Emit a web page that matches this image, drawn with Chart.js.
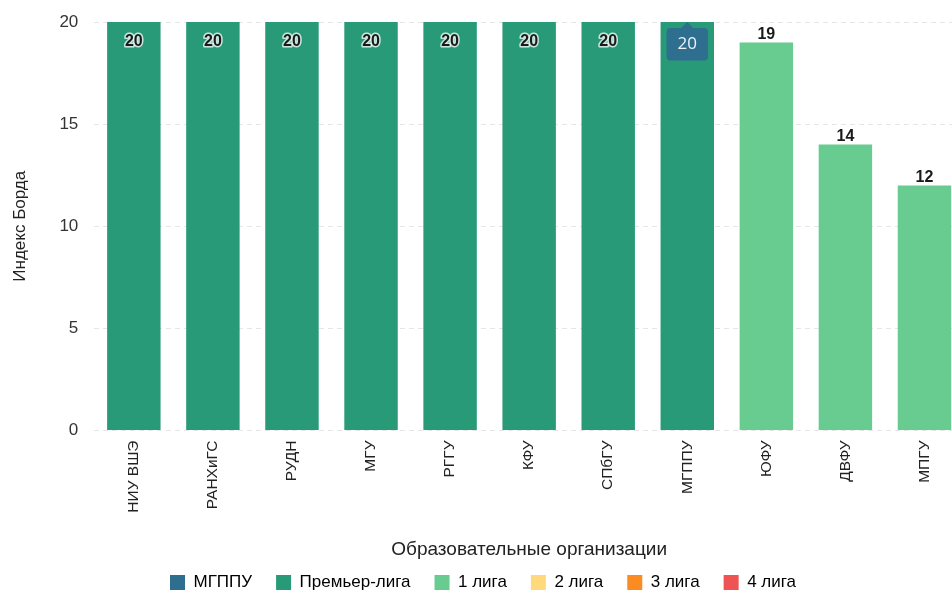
<!DOCTYPE html>
<html><head><meta charset="utf-8">
<script src="https://cdn.jsdelivr.net/npm/chart.js@4.4.1/dist/chart.umd.min.js"></script>
<style>
html,body{margin:0;padding:0;overflow:hidden;background:#fff;width:952px;height:590px}
#wrap{position:absolute;left:0;top:0;width:970px;height:601px}
</style></head>
<body><div id="wrap"><canvas id="c"></canvas></div>
<script>
const categories = ['НИУ ВШЭ','РАНХиГС','РУДН','МГУ','РГГУ','КФУ','СПбГУ','МГППУ','ЮФУ','ДВФУ','МПГУ'];
const values = [20,20,20,20,20,20,20,20,19,14,12];
const barLeagues = ['Премьер-лига','Премьер-лига','Премьер-лига','Премьер-лига','Премьер-лига','Премьер-лига','Премьер-лига','Премьер-лига','1 лига','1 лига','1 лига'];
const legendNames = ['МГППУ','Премьер-лига','1 лига','2 лига','3 лига','4 лига'];
const legendColors = ['#2e6e8e','#289a78','#68cc90','#ffd97c','#fd8b24','#ef5454'];
const highlighted = 'МГППУ';
const yTicks = [0,5,10,15,20];

const FONT = "'Liberation Sans', Arial, sans-serif";
const barColors = barLeagues.map(l => legendColors[legendNames.indexOf(l)]);

const valueLabels = {
  id: 'valueLabels',
  afterDatasetsDraw(chart) {
    const ctx = chart.ctx;
    const meta = chart.getDatasetMeta(0);
    ctx.save();
    ctx.font = "bold 16px " + FONT;
    ctx.textAlign = 'center';
    ctx.textBaseline = 'middle';
    ctx.lineJoin = 'round';
    meta.data.forEach((el, i) => {
      const v = values[i];
      let y = el.y - 7.5;
      if (y - 9 < chart.chartArea.top) y = el.y + 19.5;
      ctx.lineWidth = 3;
      ctx.strokeStyle = 'rgba(255,255,255,0.75)';
      ctx.strokeText(String(v), el.x, y);
      ctx.fillStyle = '#1a1a1a';
      ctx.fillText(String(v), el.x, y);
    });
    ctx.restore();
  }
};

const chart = new Chart(document.getElementById('c'), {
  type: 'bar',
  data: {
    labels: categories,
    datasets: [{
      label: 'Индекс Борда',
      data: values,
      backgroundColor: barColors,
      hoverBackgroundColor: barColors,
      borderWidth: 0,
      categoryPercentage: 0.8,
      barPercentage: 0.845
    }]
  },
  options: {
    responsive: true,
    maintainAspectRatio: false,
    animation: false,
    events: [],
    layout: { padding: { left: 2, right: 6, top: 22, bottom: 0 } },
    scales: {
      x: {
        grid: { display: false },
        border: { display: false },
        ticks: { minRotation: 90, maxRotation: 90, autoSkip: false, color: '#222', font: { family: FONT, size: 15.5 }, padding: 2 },
        title: { display: true, text: 'Образовательные организации', color: '#222', font: { family: FONT, size: 19 }, padding: { top: 23.5, bottom: -11 } }
      },
      y: {
        min: 0, max: 20,
        afterBuildTicks(axis) { axis.ticks = yTicks.map(v => ({ value: v })); },
        afterFit(axis) { axis.paddingTop = 0; axis.paddingBottom = 0; },
        grid: { color: '#e6e6e6', lineWidth: 1, drawTicks: false },
        border: { display: false, dash: [5, 4] },
        ticks: { color: '#333', font: { family: FONT, size: 17 }, padding: 16 },
        title: { display: true, text: 'Индекс Борда', color: '#222', font: { family: FONT, size: 17 }, padding: { top: 8, bottom: 13 } }
      }
    },
    plugins: {
      legend: {
        position: 'bottom',
        onClick: null,
        labels: {
          boxWidth: 15, boxHeight: 15, padding: 24, color: '#222',
          font: { family: FONT, size: 17 },
          generateLabels() {
            return legendNames.map((n, i) => ({ text: n, fillStyle: legendColors[i], strokeStyle: legendColors[i], lineWidth: 0, hidden: false, datasetIndex: 0 }));
          }
        }
      },
      tooltip: {
        enabled: true,
        yAlign: 'top', xAlign: 'center',
        backgroundColor: '#2e6e8e',
        bodyColor: '#eef3f6',
        bodyFont: { family: "'Open Sans', " + FONT, size: 17 },
        padding: { x: 11, y: 6 },
        caretSize: 6, caretPadding: 0, cornerRadius: 4,
        displayColors: false,
        callbacks: { title: () => '', label: (c) => String(c.parsed.y) }
      }
    }
  },
  plugins: [valueLabels]
});

const idx = categories.indexOf(highlighted);
const el = chart.getDatasetMeta(0).data[idx];
chart.tooltip.setActiveElements([{ datasetIndex: 0, index: idx }], { x: el.x, y: el.y });
chart.draw();
</script>
</body></html>
